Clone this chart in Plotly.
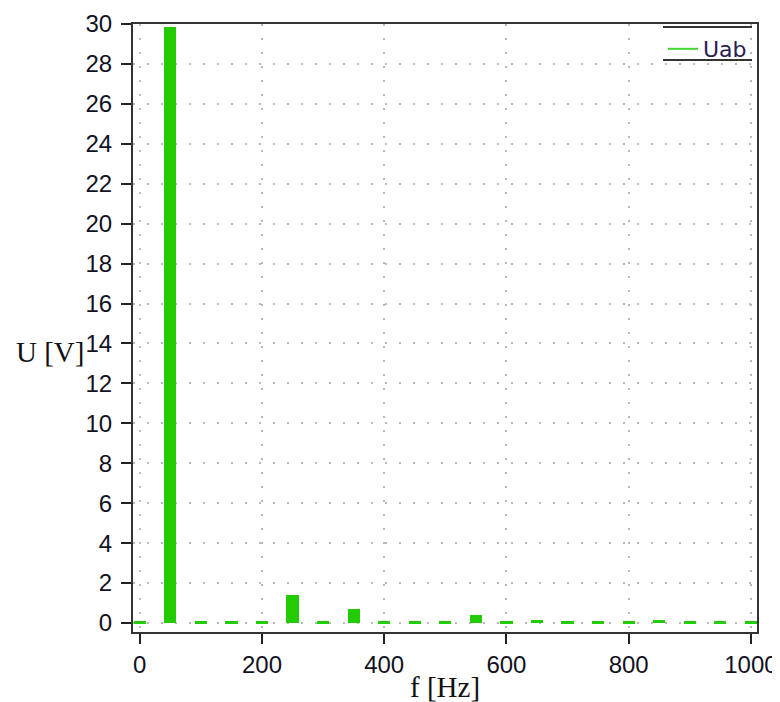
import plotly.graph_objects as go

# Harmonic spectrum of Uab
freq_hz = [0, 50, 100, 150, 200, 250, 300, 350, 400, 450, 500,
           550, 600, 650, 700, 750, 800, 850, 900, 950, 1000]
uab_v = [0.08, 29.85, 0.08, 0.08, 0.08, 1.4, 0.08, 0.68, 0.08, 0.08, 0.08,
         0.38, 0.08, 0.15, 0.08, 0.08, 0.08, 0.15, 0.08, 0.08, 0.08]
series_name = "Uab"
x_ticks = [0, 200, 400, 600, 800, 1000]
y_ticks = list(range(0, 31, 2))

GREEN = "#22cc00"
OFF = 8  # default page body margin
W, H = 780 - OFF, 702 - OFF
# plot area in page pixels: x 133..757, y 24..632
L, T = 133 - OFF, 24 - OFF
R = W - (757 - OFF)
B = H - (632 - OFF)
PW, PH = W - L - R, H - T - B

def px_x(p):
    return (p - OFF - L) / PW

def px_y(p):
    return (H - B - (p - OFF)) / PH

fig = go.Figure()
fig.add_trace(go.Bar(x=freq_hz, y=uab_v, width=20, marker_color=GREEN,
                     marker_line_width=0, showlegend=False))
fig.add_trace(go.Scatter(x=[None], y=[None], mode="lines", name=series_name,
                         line=dict(color="#44d82a", width=2), showlegend=True))

tickfont = dict(family="Liberation Sans", size=24, color="#111122")
axis_common = dict(showline=True, mirror=True, linecolor="#333333", linewidth=2,
                   ticks="outside", ticklen=10, tickwidth=2, tickcolor="#222222",
                   showgrid=True, gridcolor="#b8b8b8", gridwidth=2,
                   griddash="2px,12px", zeroline=False, tickfont=tickfont,
                   automargin=False)

fig.update_xaxes(range=[-11, 1010], tickvals=x_ticks, **axis_common)
fig.update_yaxes(range=[-0.45, 30], tickvals=y_ticks, ticklabelstandoff=4, **axis_common)

fig.add_annotation(text="U [V]", xref="paper", yref="paper", x=px_x(50), y=px_y(352),
                   showarrow=False, xanchor="center", yanchor="middle",
                   font=dict(family="Liberation Serif", size=29, color="#111111"))
fig.add_annotation(text="f [Hz]", xref="paper", yref="paper", x=px_x(445), y=px_y(687),
                   showarrow=False, xanchor="center", yanchor="middle",
                   font=dict(family="Liberation Serif", size=29, color="#111111"))

# legend top/bottom rules
for yy in (27, 60):
    fig.add_shape(type="line", xref="paper", yref="paper", x0=px_x(663), x1=px_x(752),
                  y0=px_y(yy), y1=px_y(yy), line=dict(color="#333333", width=2))

fig.update_layout(
    width=W, height=H,
    margin=dict(l=L, r=R, t=T, b=B, autoexpand=False),
    paper_bgcolor="white", plot_bgcolor="white",
    bargap=0,
    legend=dict(x=px_x(663), y=px_y(28), xanchor="left", yanchor="top",
                bgcolor="rgba(0,0,0,0)", borderwidth=0,
                font=dict(family="DejaVu Sans", size=22, color="#2a2050")),
)

fig.write_html("out.html")
